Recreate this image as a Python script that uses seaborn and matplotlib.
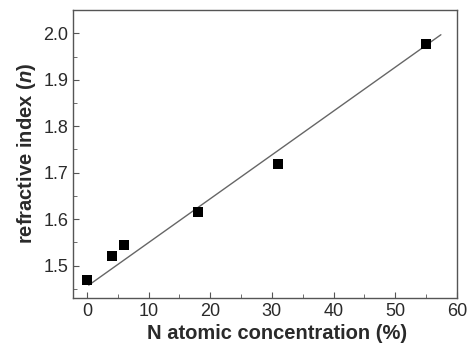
import numpy as np
import pandas as pd
import seaborn as sns
import matplotlib.pyplot as plt
from matplotlib.ticker import MultipleLocator

# measured points
n_conc = [0, 4, 6, 18, 31, 55]
ref_index = [1.47, 1.52, 1.545, 1.615, 1.718, 1.978]

# linear fit line
fit_x = [0.3, 57.4]
fit_y = [1.458, 1.997]

df = pd.DataFrame({'N': n_conc, 'n': ref_index})
fit = pd.DataFrame({'N': fit_x, 'n': fit_y})

sns.set_style('ticks')
plt.rcParams['font.family'] = ['Liberation Sans', 'DejaVu Sans']
plt.rcParams['mathtext.fontset'] = 'custom'
plt.rcParams['mathtext.bfit'] = 'Liberation Sans:italic:bold'

fig, ax = plt.subplots(figsize=(4.73, 3.49), dpi=100)
fig.subplots_adjust(left=0.155, right=0.966, top=0.971, bottom=0.147)

sns.lineplot(data=fit, x='N', y='n', color='#666666', linewidth=1.0, ax=ax)
sns.scatterplot(data=df, x='N', y='n', marker='s', s=45, color='black',
                edgecolor='black', linewidth=0, ax=ax, zorder=3)

ax.set_xlim(-2.2, 60)
ax.set_ylim(1.431, 2.05)
ax.xaxis.set_major_locator(MultipleLocator(10))
ax.xaxis.set_minor_locator(MultipleLocator(5))
ax.yaxis.set_minor_locator(MultipleLocator(0.05))
ax.set_yticks([1.5, 1.6, 1.7, 1.8, 1.9, 2.0])
ax.tick_params(which='both', direction='in', color='#555555', labelcolor='#2a2a2a',
               labelsize=13)
ax.tick_params(which='major', length=4)
ax.tick_params(which='minor', length=3)
for sp in ax.spines.values():
    sp.set_color('#555555')
    sp.set_linewidth(1.0)

ax.set_xlabel('N atomic concentration (%)', fontsize=14.5, fontweight='bold',
              color='#2a2a2a', labelpad=3)
ax.xaxis.set_label_coords(0.53, -0.09)
ax.set_ylabel('refractive index ($\\mathbfit{n}$)', fontsize=14.5, fontweight='bold',
              color='#2a2a2a', labelpad=4)

fig.savefig('out.png', dpi=100)
